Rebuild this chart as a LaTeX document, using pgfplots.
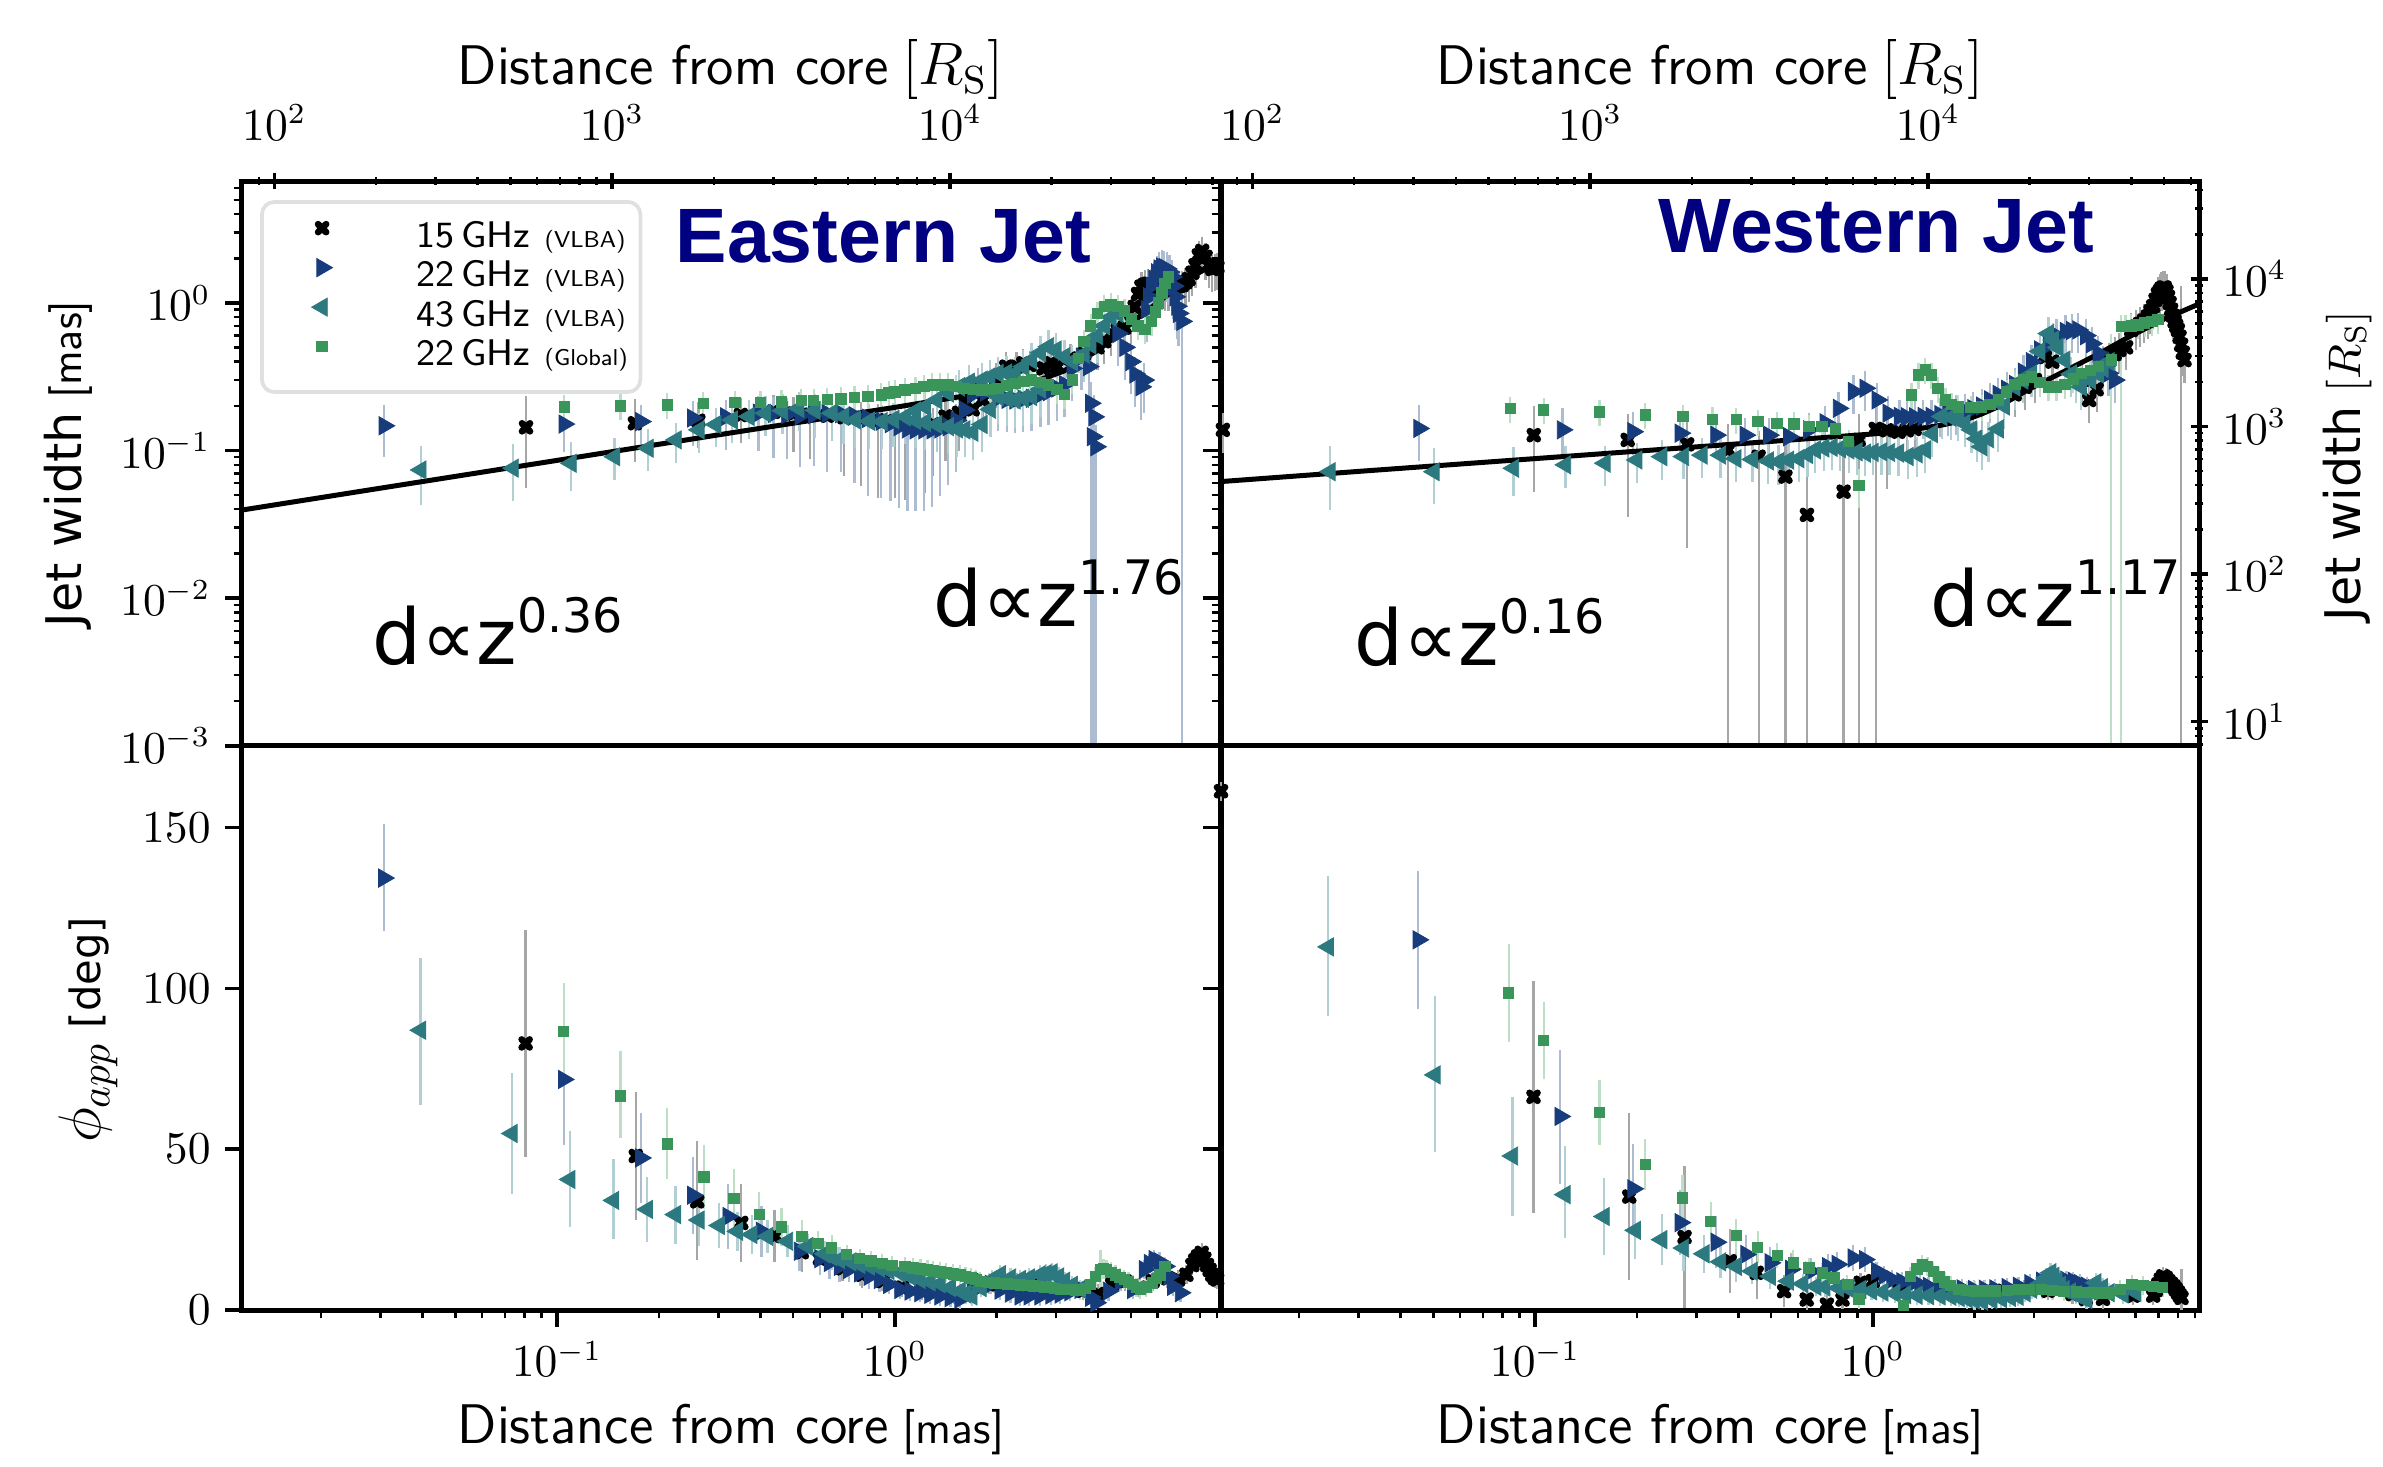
\documentclass[border=0pt]{standalone}
\usepackage{fontspec}
\usepackage{pgfplots}
\pgfplotsset{compat=1.18}
\newfontfamily\dejavu{DejaVu Sans}
\newfontfamily\libsans{Liberation Sans}
\definecolor{c22}{HTML}{163C7C}
\definecolor{c43}{HTML}{2C7A80}
\definecolor{cG}{HTML}{3A955A}
\definecolor{e15}{HTML}{A6A6A6}
\definecolor{e22}{HTML}{AEBCD2}
\definecolor{e43}{HTML}{B2CFD3}
\definecolor{eG}{HTML}{BCDFC6}
\definecolor{navyt}{HTML}{000080}
\definecolor{legbd}{HTML}{E0E0E0}
\pgfdeclareplotmark{Xf}{%
  \pgfsetlinewidth{1.0\pgfplotmarksize}%
  \pgfsetroundcap
  \pgfpathmoveto{\pgfqpoint{-0.6\pgfplotmarksize}{-0.6\pgfplotmarksize}}%
  \pgfpathlineto{\pgfqpoint{0.6\pgfplotmarksize}{0.6\pgfplotmarksize}}%
  \pgfpathmoveto{\pgfqpoint{-0.6\pgfplotmarksize}{0.6\pgfplotmarksize}}%
  \pgfpathlineto{\pgfqpoint{0.6\pgfplotmarksize}{-0.6\pgfplotmarksize}}%
  \pgfusepathqstroke}
\pgfplotsset{
  base/.style={scale only axis, width=235pt, height=135.5pt, anchor=north west,
    tick align=outside, major tick length=4pt, minor tick length=2pt,
    every tick/.append style={line width=0.9pt, black},
    every minor tick/.append style={line width=0.6pt},
    axis line style={line width=1.2pt},
    tick label style={font=\fontsize{10.6}{12}\selectfont},
    xmin=0.01167, xmax=9.25},
  s15/.style={only marks, mark=Xf, mark size=1.6pt, color=black, mark options={draw=black, fill=black},
    error bars/y dir=both, error bars/error mark=none, error bars/error bar style={line width=0.55pt, color=e15}},
  s22/.style={only marks, mark=triangle*, mark size=2.5pt, color=c22, mark options={rotate=-90, draw=c22, fill=c22, line width=0.2pt},
    error bars/y dir=both, error bars/error mark=none, error bars/error bar style={line width=0.55pt, color=e22}},
  s43/.style={only marks, mark=triangle*, mark size=2.5pt, color=c43, mark options={rotate=90, draw=c43, fill=c43, line width=0.2pt},
    error bars/y dir=both, error bars/error mark=none, error bars/error bar style={line width=0.55pt, color=e43}},
  sG/.style={only marks, mark=square*, mark size=1.25pt, color=cG, mark options={draw=cG, fill=cG, line width=0.2pt},
    error bars/y dir=both, error bars/error mark=none, error bars/error bar style={line width=0.55pt, color=eG}},
  rel/.style={error bars/y explicit relative},
  abs/.style={error bars/y explicit},
}
\newcommand{\dprop}[1]{{\dejavu\fontsize{18.5}{21}\selectfont d∝z\raisebox{7.6pt}{\fontsize{11.4}{13}\selectfont #1}}}
\newcommand{\legtxt}[2]{#1\,GHz\hspace{3.5pt}{\fontsize{5.5}{6.5}\selectfont (#2)}}
\begin{document}
\begin{tikzpicture}
%================ TOP LEFT =================
\begin{axis}[base, at={(58.08pt,-43.44pt)}, xmode=log, ymode=log, ymin=1e-3, ymax=6.699,
  xtick=\empty, xminorticks=false, ytick pos=left,
  legend cell align=left,
  legend image code/.code={\draw[#1] plot coordinates {(12pt,2.3pt)}; \path (0pt,0pt) (33.3pt,0pt);},
  legend style={at={(0.0184,0.9663)}, anchor=north west, draw=legbd, line width=0.9pt, rounded corners=3pt,
    inner xsep=2pt, inner ysep=3.85pt, row sep=0pt, font=\sffamily\fontsize{8.9}{11}\selectfont,
    nodes={inner xsep=1pt, inner ysep=0pt, text height=7pt, text depth=2.48pt}}]
\addplot[s15, rel] table[x=x, y=y, y error plus=ep, y error minus=em] {
x y ep em
0.0809 0.1436 0.62 0.61
0.170 0.153 0.45 0.45
0.262 0.159 0.35 0.35
0.350 0.174 0.30 0.35
0.4375 0.183 0.30 0.30
0.501 0.178 0.30 0.45
0.562 0.175 0.30 0.50
0.631 0.172 0.30 0.55
0.708 0.168 0.30 0.60
0.794 0.164 0.30 0.65
0.891 0.160 0.30 0.70
1.000 0.158 0.30 0.70
1.07 0.155 0.30 0.70
1.15 0.150 0.30 0.70
1.23 0.148 0.30 0.65
1.30 0.150 0.30 0.55
1.413 0.170 0.30 0.50
1.549 0.180 0.30 0.45
1.62 0.21 0.30 0.40
1.70 0.19 0.30 0.40
1.820 0.220 0.30 0.35
1.995 0.300 0.30 0.35
2.138 0.370 0.25 0.30
2.291 0.370 0.25 0.30
2.40 0.390 0.25 0.30
2.512 0.380 0.25 0.30
2.754 0.360 0.25 0.30
2.90 0.39 0.25 0.30
3.020 0.370 0.25 0.30
3.311 0.420 0.25 0.30
3.631 0.450 0.25 0.30
3.981 0.500 0.25 0.30
4.169 0.550 0.25 0.30
4.365 0.620 0.25 0.30
4.571 0.660 0.25 0.30
4.786 0.680 0.25 0.30
5.012 0.750 0.25 0.30
5.129 0.940 0.25 0.30
5.248 1.150 0.25 0.30
5.370 1.290 0.25 0.30
5.50 1.33 0.25 0.30
5.623 1.350 0.25 0.30
5.75 1.33 0.25 0.30
5.888 1.300 0.25 0.30
6.03 1.29 0.25 0.30
6.166 1.280 0.25 0.30
6.31 1.26 0.25 0.30
6.457 1.250 0.25 0.30
6.61 1.26 0.25 0.30
6.761 1.280 0.25 0.30
6.92 1.30 0.25 0.30
7.079 1.320 0.25 0.30
7.25 1.38 0.25 0.30
7.413 1.450 0.25 0.30
7.60 1.60 0.25 0.30
7.762 1.800 0.25 0.30
7.943 2.100 0.25 0.30
8.128 2.250 0.25 0.30
8.318 2.050 0.25 0.30
8.511 1.800 0.25 0.30
8.710 1.700 0.25 0.30
8.86 1.72 0.25 0.30
9.016 1.750 0.25 0.30
};
\addlegendentry{\legtxt{15}{VLBA}}
\addplot[s22, rel] table[x=x, y=y, y error plus=ep, y error minus=em] {
x y ep em
0.0308 0.147 0.38 0.39
0.105 0.151 0.35 0.35
0.177 0.157 0.30 0.30
0.252 0.166 0.30 0.35
0.316 0.169 0.30 0.40
0.395 0.179 0.30 0.45
0.437 0.178 0.30 0.50
0.479 0.175 0.30 0.50
0.525 0.172 0.30 0.55
0.575 0.175 0.30 0.55
0.631 0.178 0.30 0.60
0.692 0.178 0.30 0.60
0.759 0.172 0.30 0.65
0.832 0.165 0.30 0.70
0.912 0.158 0.30 0.70
0.970 0.152 0.30 0.70
1.03 0.145 0.30 0.72
1.09 0.140 0.30 0.72
1.15 0.138 0.30 0.72
1.22 0.138 0.30 0.72
1.29 0.138 0.30 0.70
1.36 0.140 0.30 0.65
1.44 0.145 0.30 0.60
1.52 0.160 0.30 0.55
1.61 0.188 0.30 0.50
1.70 0.240 0.30 0.45
1.76 0.280 0.30 0.45
1.86 0.250 0.30 0.40
2.02 0.226 0.30 0.40
2.15 0.222 0.30 0.40
2.27 0.220 0.30 0.40
2.40 0.223 0.30 0.40
2.54 0.226 0.30 0.40
2.70 0.240 0.30 0.40
2.85 0.250 0.30 0.40
3.02 0.265 0.30 0.40
3.18 0.280 0.30 0.40
3.35 0.360 0.30 0.40
3.57 0.430 0.30 0.40
3.75 0.370 0.30 0.40
3.800 0.209 0.40 0.999
3.890 0.169 0.40 0.999
3.850 0.124 0.40 0.999
3.940 0.106 0.40 0.999
4.580 0.620 0.30 0.40
4.800 0.500 0.30 0.40
5.000 0.400 0.30 0.40
5.140 0.330 0.30 0.40
5.360 0.270 0.30 0.40
5.470 0.300 0.30 0.40
5.560 0.900 0.30 0.40
5.650 1.100 0.30 0.40
5.750 1.300 0.30 0.40
5.850 1.450 0.30 0.40
5.960 1.600 0.30 0.40
6.060 1.700 0.30 0.40
6.170 1.750 0.30 0.40
6.270 1.740 0.30 0.40
6.380 1.700 0.30 0.40
6.500 1.620 0.30 0.40
6.610 1.500 0.30 0.40
6.690 1.300 0.30 0.40
6.760 1.100 0.30 0.40
6.840 0.950 0.30 0.40
6.920 0.850 0.30 0.40
7.080 0.750 1.20 0.999
};
\addlegendentry{\legtxt{22}{VLBA}}
\addplot[s43, rel] table[x=x, y=y, y error plus=ep, y error minus=em] {
x y ep em
0.0395 0.0738 0.45 0.42
0.0741 0.0759 0.45 0.40
0.110 0.0819 0.40 0.35
0.148 0.0907 0.35 0.30
0.186 0.1035 0.35 0.30
0.225 0.118 0.30 0.30
0.263 0.138 0.30 0.30
0.295 0.150 0.30 0.30
0.330 0.161 0.30 0.30
0.370 0.170 0.30 0.30
0.414 0.179 0.30 0.30
0.465 0.186 0.30 0.30
0.519 0.193 0.30 0.30
0.580 0.187 0.30 0.35
0.651 0.179 0.30 0.35
0.705 0.170 0.30 0.35
0.764 0.161 0.30 0.35
0.840 0.158 0.30 0.35
0.916 0.157 0.30 0.35
0.990 0.162 0.30 0.35
1.074 0.169 0.30 0.35
1.150 0.185 0.30 0.35
1.230 0.198 0.30 0.35
1.330 0.220 0.30 0.35
1.440 0.245 0.30 0.35
1.550 0.270 0.30 0.35
1.660 0.290 0.30 0.35
1.810 0.300 0.30 0.35
1.910 0.315 0.30 0.35
2.020 0.333 0.30 0.35
2.140 0.335 0.30 0.35
2.270 0.333 0.30 0.35
2.400 0.370 0.30 0.35
2.540 0.410 0.30 0.35
2.700 0.460 0.30 0.35
2.850 0.505 0.30 0.35
3.000 0.480 0.30 0.35
3.180 0.432 0.30 0.35
3.350 0.400 0.30 0.35
1.150 0.160 0.30 0.35
1.230 0.155 0.30 0.35
1.330 0.150 0.30 0.35
1.440 0.145 0.30 0.35
1.530 0.140 0.30 0.35
1.610 0.138 0.30 0.35
1.700 0.133 0.30 0.35
1.810 0.150 0.30 0.35
1.920 0.190 0.30 0.35
2.020 0.232 0.30 0.35
2.150 0.225 0.30 0.35
2.270 0.220 0.30 0.35
2.400 0.226 0.30 0.35
2.540 0.232 0.30 0.35
2.700 0.260 0.30 0.35
3.631 0.450 0.30 0.35
3.800 0.520 0.30 0.35
3.981 0.600 0.30 0.35
4.170 0.700 0.30 0.35
4.365 0.800 0.30 0.35
4.571 0.850 0.30 0.35
};
\addlegendentry{\legtxt{43}{VLBA}}
\addplot[sG, rel] table[x=x, y=y, y error plus=ep, y error minus=em] {
x y ep em
0.105 0.198 0.20 0.20
0.154 0.200 0.20 0.20
0.212 0.203 0.20 0.20
0.271 0.209 0.20 0.20
0.336 0.211 0.20 0.20
0.400 0.211 0.20 0.20
0.462 0.214 0.20 0.20
0.528 0.218 0.20 0.20
0.575 0.219 0.20 0.20
0.631 0.221 0.20 0.20
0.692 0.224 0.20 0.20
0.759 0.228 0.20 0.20
0.832 0.232 0.20 0.20
0.912 0.238 0.20 0.20
0.960 0.245 0.20 0.20
1.000 0.250 0.20 0.20
1.070 0.257 0.20 0.20
1.150 0.264 0.20 0.20
1.220 0.272 0.20 0.20
1.290 0.278 0.20 0.20
1.360 0.279 0.20 0.20
1.440 0.278 0.20 0.20
1.520 0.272 0.20 0.20
1.610 0.264 0.20 0.20
1.710 0.260 0.20 0.20
1.810 0.257 0.20 0.20
1.910 0.260 0.20 0.20
2.020 0.264 0.20 0.20
2.140 0.275 0.20 0.20
2.270 0.285 0.20 0.20
2.400 0.293 0.20 0.20
2.540 0.300 0.20 0.20
2.700 0.290 0.20 0.20
2.850 0.278 0.20 0.20
3.020 0.260 0.20 0.20
3.180 0.240 0.20 0.20
3.350 0.300 0.20 0.20
3.500 0.420 0.20 0.20
3.631 0.550 0.20 0.20
3.800 0.700 0.20 0.20
3.981 0.850 0.20 0.20
4.169 0.950 0.20 0.20
4.365 0.970 0.20 0.20
4.571 0.950 0.20 0.20
4.786 0.880 0.20 0.20
5.012 0.780 0.20 0.20
5.248 0.700 0.20 0.20
5.495 0.660 0.20 0.20
5.754 0.750 0.20 0.20
5.900 0.870 0.20 0.20
6.026 1.000 0.20 0.20
6.170 1.170 0.20 0.20
6.310 1.350 0.20 0.20
6.457 1.500 0.20 0.20
};
\addlegendentry{\legtxt{22}{Global}}
\addplot[black, line width=1.2pt, forget plot] coordinates {
(0.01167,0.0395) (0.0316,0.0566) (0.1,0.0857) (0.316,0.130) (1.0,0.196) (1.585,0.233)
(1.995,0.257) (2.512,0.288) (2.818,0.313) (3.162,0.345) (3.548,0.407) (3.981,0.476)
(4.467,0.582) (5.012,0.730) (5.623,0.898) (6.31,1.10) (7.079,1.327) (7.943,1.60) (9.25,1.97)};
\end{axis}
\begin{axis}[base, at={(58.08pt,-43.44pt)}, xmode=log, xmin=80.2, xmax=63557, ymin=0, ymax=1,
  axis x line=top, axis y line=none, x axis line style={-}, xticklabel style={yshift=4.3pt}]
\addplot[draw=none] coordinates {(1000,0.5)};
\end{axis}
%================ TOP RIGHT =================
\begin{axis}[base, at={(292.8pt,-43.44pt)}, xmode=log, ymode=log, ymin=1e-3, ymax=6.699,
  xtick=\empty, xminorticks=false, ytick pos=left, yticklabels={}]
\addplot[s15, rel] table[x=x, y=y, y error plus=ep, y error minus=em] {
x y ep em
0.0119 0.138 0.30 0.30
0.0991 0.127 0.57 0.59
0.188 0.118 0.50 0.70
0.282 0.110 0.50 0.80
0.372 0.101 0.50 0.999
0.459 0.0908 0.50 0.999
0.551 0.0665 0.80 0.999
0.638 0.0366 1.50 0.999
0.819 0.0526 1.20 0.999
0.908 0.118 0.50 0.999
1.02 0.140 0.40 0.999
1.10 0.137 0.30 0.60
1.19 0.134 0.30 0.30
1.26 0.137 0.30 0.30
1.33 0.140 0.30 0.30
2.63 0.240 0.30 0.30
2.82 0.270 0.30 0.30
3.02 0.300 0.30 0.30
3.23 0.430 0.30 0.30
3.40 0.400 0.30 0.30
4.17 0.300 0.30 0.30
4.37 0.220 0.30 0.30
4.60 0.260 0.30 0.30
5.01 0.410 0.30 0.30
5.20 0.450 0.30 0.30
5.37 0.480 0.30 0.30
5.62 0.500 0.30 0.30
5.82 0.656 0.30 0.30
6.00 0.690 0.30 0.30
6.17 0.720 0.30 0.30
6.35 0.760 0.30 0.30
6.52 0.810 0.30 0.30
6.64 0.880 0.30 0.30
6.76 0.950 0.30 0.30
6.87 1.050 0.30 0.30
6.98 1.150 0.30 0.30
7.07 1.200 0.30 0.30
7.16 1.250 0.30 0.30
7.24 1.270 0.30 0.30
7.31 1.270 0.30 0.30
7.40 1.200 0.30 0.30
7.48 1.100 0.30 0.30
7.56 1.000 0.30 0.30
7.64 0.900 0.30 0.30
7.73 0.820 0.30 0.30
7.82 0.750 0.30 0.30
7.91 0.700 0.30 0.30
8.00 0.656 0.30 0.30
8.09 0.590 0.30 0.30
8.18 0.520 1.50 0.999
8.27 0.460 0.30 0.30
8.37 0.410 0.30 0.30
};
\addplot[s22, rel] table[x=x, y=y, y error plus=ep, y error minus=em] {
x y ep em
0.0453 0.141 0.45 0.40
0.1205 0.138 0.40 0.35
0.195 0.134 0.35 0.30
0.269 0.131 0.30 0.30
0.343 0.127 0.30 0.30
0.419 0.127 0.30 0.30
0.492 0.127 0.30 0.30
0.564 0.124 0.30 0.30
0.646 0.138 0.30 0.30
0.723 0.154 0.30 0.30
0.791 0.193 0.30 0.30
0.877 0.251 0.30 0.30
0.949 0.264 0.30 0.30
1.03 0.220 0.30 0.30
1.11 0.179 0.30 0.30
1.20 0.170 0.30 0.30
1.26 0.169 0.30 0.30
1.33 0.169 0.30 0.30
1.41 0.170 0.30 0.30
1.49 0.170 0.30 0.30
1.58 0.175 0.30 0.30
1.67 0.180 0.30 0.30
1.77 0.182 0.30 0.30
1.87 0.185 0.30 0.30
1.98 0.192 0.30 0.30
2.10 0.200 0.30 0.30
2.22 0.220 0.30 0.30
2.35 0.240 0.30 0.30
2.49 0.260 0.30 0.30
2.63 0.280 0.30 0.30
2.79 0.340 0.30 0.30
2.95 0.400 0.30 0.30
3.12 0.480 0.30 0.30
3.31 0.550 0.30 0.30
3.50 0.600 0.30 0.30
3.72 0.640 0.30 0.30
3.88 0.650 0.30 0.30
4.05 0.656 0.30 0.30
4.27 0.600 0.30 0.30
4.45 0.530 0.30 0.30
4.65 0.456 0.30 0.30
4.80 0.390 0.30 0.30
4.98 0.333 0.30 0.30
5.20 0.300 0.30 0.30
};
\addplot[s43, rel] table[x=x, y=y, y error plus=ep, y error minus=em] {
x y ep em
0.0247 0.0718 0.50 0.45
0.0502 0.0718 0.45 0.40
0.0863 0.0758 0.40 0.35
0.123 0.0799 0.35 0.30
0.161 0.082 0.30 0.30
0.200 0.0862 0.30 0.30
0.237 0.0908 0.30 0.30
0.275 0.091 0.30 0.30
0.312 0.093 0.30 0.30
0.354 0.093 0.30 0.30
0.393 0.088 0.30 0.30
0.44 0.087 0.30 0.30
0.49 0.085 0.30 0.30
0.526 0.084 0.30 0.30
0.563 0.086 0.30 0.30
0.603 0.088 0.30 0.30
0.640 0.094 0.30 0.30
0.675 0.101 0.30 0.30
0.715 0.104 0.30 0.30
0.757 0.105 0.30 0.30
0.800 0.103 0.30 0.30
0.848 0.101 0.30 0.30
0.897 0.098 0.30 0.30
0.949 0.096 0.30 0.30
1.00 0.097 0.30 0.30
1.06 0.098 0.30 0.30
1.12 0.097 0.30 0.30
1.19 0.096 0.30 0.30
1.27 0.091 0.30 0.30
1.35 0.095 0.30 0.30
1.43 0.101 0.30 0.30
1.50 0.130 0.30 0.30
1.60 0.170 0.30 0.30
1.70 0.168 0.30 0.30
1.79 0.165 0.30 0.30
1.87 0.152 0.30 0.30
1.96 0.138 0.30 0.30
2.03 0.120 0.30 0.30
2.10 0.106 0.30 0.30
2.20 0.120 0.30 0.30
2.35 0.140 0.30 0.30
2.45 0.200 0.30 0.30
2.63 0.270 0.30 0.30
2.78 0.300 0.30 0.30
2.95 0.330 0.30 0.30
3.12 0.470 0.30 0.30
3.31 0.620 0.30 0.30
3.42 0.560 0.30 0.30
3.53 0.500 0.30 0.30
3.70 0.410 0.30 0.30
3.87 0.330 0.30 0.30
4.00 0.300 0.30 0.30
4.14 0.270 0.30 0.30
4.40 0.300 0.30 0.30
4.65 0.330 0.30 0.30
4.80 0.360 0.30 0.30
5.00 0.400 0.30 0.30
};
\addplot[sG, rel] table[x=x, y=y, y error plus=ep, y error minus=em] {
x y ep em
0.0844 0.193 0.20 0.20
0.106 0.188 0.20 0.20
0.155 0.183 0.20 0.20
0.212 0.174 0.20 0.20
0.274 0.170 0.20 0.20
0.335 0.163 0.20 0.20
0.394 0.162 0.20 0.20
0.457 0.157 0.20 0.20
0.520 0.152 0.20 0.20
0.583 0.151 0.20 0.20
0.646 0.146 0.20 0.20
0.707 0.145 0.20 0.20
0.774 0.140 0.20 0.20
0.848 0.115 0.20 0.20
0.908 0.058 0.30 0.30
1.30 0.238 0.20 0.20
1.365 0.325 0.20 0.20
1.43 0.351 0.20 0.20
1.49 0.325 0.20 0.20
1.56 0.264 0.20 0.20
1.64 0.220 0.20 0.20
1.71 0.205 0.20 0.20
1.79 0.198 0.20 0.20
1.95 0.195 0.20 0.20
2.10 0.198 0.20 0.20
2.22 0.205 0.20 0.20
2.35 0.220 0.20 0.20
2.49 0.250 0.20 0.20
2.63 0.280 0.20 0.20
2.79 0.300 0.20 0.20
2.95 0.316 0.20 0.20
3.12 0.290 0.20 0.20
3.31 0.270 0.20 0.20
3.50 0.270 0.20 0.20
3.70 0.280 0.20 0.20
3.92 0.305 0.20 0.20
4.14 0.333 0.20 0.20
4.40 0.350 0.20 0.20
4.65 0.370 0.20 0.20
5.08 0.410 0.50 0.999
5.44 0.690 0.20 0.999
5.60 0.690 0.20 0.20
5.82 0.700 0.20 0.20
6.10 0.710 0.20 0.20
6.38 0.730 0.20 0.20
6.70 0.750 0.20 0.20
6.98 0.770 0.20 0.20
};
\addplot[black, line width=1.2pt, forget plot] coordinates {
(0.01167,0.0615) (0.0316,0.0728) (0.1,0.0881) (0.316,0.1067) (1.0,0.1294) (1.259,0.1365)
(1.585,0.148) (1.875,0.161) (2.089,0.176) (2.35,0.198) (2.63,0.229) (2.944,0.265)
(3.70,0.345) (4.645,0.45) (5.82,0.60) (7.31,0.78) (9.25,0.985)};
\end{axis}
\begin{axis}[base, at={(292.8pt,-43.44pt)}, xmode=log, ymode=log, xmin=80.2, xmax=63557, ymin=6.871, ymax=46028,
  axis x line=top, axis y line=right, x axis line style={-}, y axis line style={-}, xticklabel style={yshift=4.3pt}]
\addplot[draw=none] coordinates {(1000,100)};
\end{axis}
%================ BOTTOM LEFT =================
\begin{axis}[base, at={(58.08pt,-178.92pt)}, xmode=log, ymin=0, ymax=175.5, ytick={0,50,100,150},
  xtick pos=left, ytick pos=left]
\addplot[s15, abs] table[x=x, y=y, y error plus=ep, y error minus=em] {
x y ep em
0.0807 82.9 35.4 35.3
0.171 47.9 20 20
0.260 33.8 18.9 18.2
0.351 27.1 12 12
0.44 23 8 8
0.53 18 6 6
0.60 16 5 5
0.70 13 4 4
0.80 11 4 4
0.92 9 3 3
1.05 7 3 3
1.2 6 3 3
1.5 5 3 3
1.9 8 3 3
2.3 8.5 3 3
2.7 9 3 3
3.2 7 3 3
3.6 6 3 3
4.0 5 3 3
4.4 8 3 3
4.8 9 3 3
5.3 7 3 3
5.8 9 3 3
6.4 10 3 3
6.9 9.5 3 3
7.3 11 3 3
7.6 14 3 3
7.75 15.5 3 3
7.9 16.7 3 3
8.1 17.8 3 3
8.25 16 3 3
8.4 14 3 3
8.55 12.5 3 3
8.7 11 3 3
8.85 10 3 3
9.0 9.5 3 3
};
\addplot[s22, abs] table[x=x, y=y, y error plus=ep, y error minus=em] {
x y ep em
0.0307 134.3 16.7 16.5
0.1046 71.7 21.1 20.4
0.177 47.3 14 14
0.252 35.7 12 12
0.321 29.1 10 10
0.403 24.5 8 8
0.522 18.3 6 6
0.60 16 5 5
0.64 14.8 5 5
0.686 13.6 5 5
0.73 12.6 4 4
0.787 11.6 4 4
0.84 10.5 4 4
0.90 9.5 4 4
0.96 8 3 3
1.035 6.4 3 3
1.11 5.9 3 3
1.186 5.4 3 3
1.27 4.9 3 3
1.36 4.4 3 3
1.46 3.9 3 3
1.56 3.4 3 3
1.70 6 3 3
1.79 9 3 3
1.92 8 3 3
2.05 6.2 3 3
2.2 5.3 3 3
2.35 4.4 3 3
2.5 4.4 3 3
2.69 4.4 3 3
2.9 4.7 3 3
3.09 5 3 3
3.3 5.7 3 3
3.54 6.5 3 3
3.80 4 3 3
3.94 2.3 3 2.3
4.29 5.9 3 3
4.66 9 3 3
5.06 6.4 3 3
5.48 12.6 3 3
5.67 14.5 3 3
5.86 15.7 3 3
6.08 15 3 3
6.30 13.6 3 3
6.48 10.5 3 3
6.65 7.4 3 3
7.01 5.4 3 3
};
\addplot[s43, abs] table[x=x, y=y, y error plus=ep, y error minus=em] {
x y ep em
0.0394 87 22.5 23.3
0.0735 54.9 18.9 18.9
0.109 40.6 15.1 14.8
0.147 34.1 12.8 12
0.185 31.3 10 10
0.224 29.7 9 9
0.263 28 8 8
0.302 26.3 7 7
0.342 24.5 6 6
0.377 23.5 6 6
0.42 22.9 5 5
0.481 21.4 5 5
0.552 19.8 4 4
0.62 17.5 4 4
0.65 16.6 4 4
0.686 15.7 4 4
0.74 15 3 3
0.787 14.2 3 3
0.84 13.7 3 3
0.90 13.1 3 3
0.96 12.3 3 3
1.035 11.6 3 3
1.11 10.5 3 3
1.186 9.5 3 3
1.27 8.8 3 3
1.36 8.2 3 3
1.46 7 3 3
1.56 5.9 3 3
1.62 5 3 3
1.69 4.4 3 3
1.80 7 3 3
1.94 9.5 3 3
2.05 11 3 3
2.2 10 3 3
2.35 9.5 3 3
2.5 10 3 3
2.69 11 3 3
2.8 11.3 3 3
2.92 11.6 3 3
3.05 10.3 3 3
3.18 9 3 3
3.35 7.7 3 3
3.54 6.5 3 3
};
\addplot[sG, abs] table[x=x, y=y, y error plus=ep, y error minus=em] {
x y ep em
0.1046 86.7 15 14.7
0.154 66.6 13.8 13.2
0.212 51.7 11 11
0.272 41.4 10 10
0.334 34.8 9 9
0.397 29.7 7 7
0.462 25.8 6 6
0.53 22.9 5 5
0.592 20.7 4 4
0.65 19.3 4 4
0.72 17.3 3 3
0.787 16.1 3 3
0.85 15.3 3 3
0.917 14.5 3 3
0.98 13.9 3 3
1.07 13.5 3 3
1.13 13.1 3 3
1.19 12.8 3 3
1.25 12.5 3 3
1.30 12.2 3 3
1.36 11.9 3 3
1.42 11.6 3 3
1.49 11.3 3 3
1.56 11 3 3
1.62 10.5 3 3
1.68 10 3 3
1.74 9.5 3 3
1.79 9 3 3
1.90 8.6 3 3
1.97 8.4 3 3
2.05 8.3 3 3
2.15 8.1 3 3
2.24 8 3 3
2.35 7.8 3 3
2.45 7.6 3 3
2.57 7.5 3 3
2.69 7.4 3 3
2.78 7.2 3 3
2.88 7 3 3
2.98 6.8 3 3
3.09 6.5 3 3
3.20 6.4 3 3
3.30 6.4 3 3
3.42 6.3 3 3
3.54 6.2 3 3
3.67 6.8 3 3
3.80 8 3 3
3.93 10.5 3 3
4.06 12.6 6 6
4.15 12.8 3 3
4.23 12.6 3 3
4.36 11.8 3 3
4.50 11 3 3
4.64 10.2 3 3
4.78 9.5 3 3
4.92 8.7 3 3
5.05 8 3 3
5.19 7.1 3 3
5.33 6.4 3 3
5.55 7.2 3 3
5.78 8.4 3 3
5.95 9.8 3 3
6.1 11 3 3
6.3 13.6 3 3
};
\end{axis}
%================ BOTTOM RIGHT =================
\begin{axis}[base, at={(292.8pt,-178.92pt)}, xmode=log, ymin=0, ymax=175.5, ytick={0,50,100,150},
  xtick pos=left, ytick pos=left, yticklabels={}]
\addplot[s15, abs] table[x=x, y=y, y error plus=ep, y error minus=em] {
x y ep em
0.01175 161.3 3 3
0.0989 66.3 36 36
0.190 35.3 26 26
0.277 22.7 22 22
0.377 15.2 10 10
0.453 11.6 8 8
0.546 5.9 5 5
0.637 3.3 4 3.3
0.731 1.7 3 1.7
0.813 3.3 3 3
0.92 8.5 3 3
1.0 9 3 3
1.2 6 3 3
1.5 5.5 3 3
1.9 5.5 3 3
2.3 6 3 3
2.8 6.5 3 3
3.3 6 3 3
3.9 5 3 3
4.27 3.5 3 3
4.8 3.5 3 3
5.9 4.5 3 3
6.76 4.5 3 3
6.88 6.2 3 3
7.0 8 3 3
7.12 9.5 3 3
7.24 10.5 3 3
7.37 10 3 3
7.5 9 3 3
7.63 8.2 3 3
7.76 7.4 3 3
7.88 6.5 3 3
8.0 5.5 3 3
8.1 4.6 3 3
8.2 3.8 9 3.8
};
\addplot[s22, abs] table[x=x, y=y, y error plus=ep, y error minus=em] {
x y ep em
0.0451 115.1 21.5 21.5
0.1186 60.2 20.7 21
0.195 37.7 14 14
0.269 27.2 10 10
0.344 21.1 8 8
0.421 17.3 6 6
0.497 14.7 5 5
0.571 12.7 5 5
0.656 12.1 4 4
0.735 13.5 4 4
0.785 14.2 4 4
0.875 16.2 4 4
0.946 15.7 4 4
1.026 12.1 3 3
1.08 10.8 3 3
1.14 9.5 3 3
1.22 8.8 3 3
1.30 8.2 3 3
1.38 7.8 3 3
1.46 7.4 3 3
1.58 7.1 3 3
1.70 6.8 3 3
1.84 6.6 3 3
1.99 6.4 3 3
2.14 6.5 3 3
2.30 6.6 3 3
2.50 7 3 3
2.70 7.4 3 3
2.92 8.2 3 3
3.16 9 3 3
3.35 9.3 3 3
3.55 9.5 3 3
3.73 9.3 3 3
3.92 9 3 3
4.10 8.2 3 3
4.30 7.4 3 3
4.50 6.7 3 3
4.70 6 3 3
};
\addplot[s43, abs] table[x=x, y=y, y error plus=ep, y error minus=em] {
x y ep em
0.0244 112.9 22.1 21.6
0.0505 73.1 24.4 24
0.0857 47.9 18.5 18.5
0.1225 35.9 15 13.4
0.160 29.1 12 12
0.198 24.8 9 9
0.237 21.9 8 8
0.275 19.3 7 7
0.316 17.5 6 6
0.354 15 5 5
0.394 13.6 5 5
0.439 12.1 4 4
0.497 10.5 4 4
0.562 9.0 4 4
0.62 8.2 3 3
0.677 7.4 3 3
0.72 7.2 3 3
0.79 6.9 3 3
0.85 6.6 3 3
0.92 6.4 3 3
0.99 6 3 3
1.07 5.6 3 3
1.16 5.2 3 3
1.25 4.8 3 3
1.35 4.6 3 3
1.46 4.5 3 3
1.58 4.4 3 3
1.70 4.3 3 3
1.80 3.9 3 3
1.90 3.5 3 3
2.00 3.1 3 3
2.11 2.8 3 2.8
2.25 3.2 3 3
2.40 3.6 3 3
2.55 4 3 3
2.69 4.3 3 3
2.82 5.4 3 3
2.95 6.5 3 3
3.06 7.5 3 3
3.16 8.5 3 3
3.26 10 3 3
3.36 11.6 3 3
3.43 10.5 3 3
3.50 9 3 3
3.59 7.7 3 3
3.68 6.4 3 3
3.84 5.6 3 3
4.0 4.8 3 3
4.15 4 3 3
4.30 3.3 3 3
4.45 6 3 3
4.57 8.5 3 3
4.78 7 3 3
5.0 5.4 3 3
5.5 5 3 3
6.0 5.5 3 3
};
\addplot[sG, abs] table[x=x, y=y, y error plus=ep, y error minus=em] {
x y ep em
0.0835 98.6 15.3 15.2
0.106 83.8 12 12
0.155 61.4 10 10
0.212 45.2 8 8
0.273 34.9 7 7
0.331 27.6 6 6
0.394 23.2 5 5
0.456 19.5 5 5
0.521 17 4 4
0.581 14.7 4 4
0.647 13.1 3 3
0.71 11.6 3 3
0.766 10 3 3
0.84 7.9 3 3
0.908 3.5 3 3
1.23 1.4 3 1.4
1.29 10.5 3 3
1.35 12.8 3 3
1.40 14.2 3 3
1.45 13.6 3 3
1.51 12.1 3 3
1.57 10.3 3 3
1.63 8.8 3 3
1.70 7.6 3 3
1.80 6.5 3 3
1.90 6.2 3 3
2.0 6 3 3
2.15 6 3 3
2.3 6 3 3
2.5 6.2 3 3
2.7 6.5 3 3
2.9 6.5 3 3
3.16 6.5 3 3
3.4 6.1 3 3
3.68 5.8 3 3
4.0 5.6 3 3
4.3 5.5 3 3
4.6 5.4 3 3
5.0 5.3 3 3
5.4 6.5 3 3
5.84 7.9 3 3
6.3 7.6 3 3
6.76 7.4 3 3
7.2 7 3 3
};
\end{axis}
%================ LABELS =================
\begin{scope}[x=0.24pt, y=-0.24pt]
\node[anchor=base, inner sep=0pt] at (731,84) {{\sffamily\fontsize{13.4}{16}\selectfont Distance from core} {\fontsize{13.4}{16}\selectfont$[R_\mathrm{S}]$}};
\node[anchor=base, inner sep=0pt] at (1710,84) {{\sffamily\fontsize{13.4}{16}\selectfont Distance from core} {\fontsize{13.4}{16}\selectfont$[R_\mathrm{S}]$}};
\node[anchor=base, inner sep=0pt] at (731,1443) {{\sffamily\fontsize{13.4}{16}\selectfont Distance from core} {\sffamily\fontsize{10.9}{13}\selectfont [mas]}};
\node[anchor=base, inner sep=0pt] at (1710,1443) {{\sffamily\fontsize{13.4}{16}\selectfont Distance from core} {\sffamily\fontsize{10.9}{13}\selectfont [mas]}};
\node[rotate=90, anchor=center, inner sep=0pt] at (68,464) {{\dejavu\fontsize{11.8}{14}\selectfont Jet width} {\sffamily\fontsize{10.5}{12}\selectfont [mas]}};
\node[rotate=90, anchor=center, inner sep=0pt] at (2347,466) {{\dejavu\fontsize{11.8}{14}\selectfont Jet width} {\fontsize{10.6}{12}\selectfont$[R_\mathrm{S}]$}};
\node[rotate=90, anchor=center, inner sep=0pt] at (88,1030) {{\fontsize{14}{16}\selectfont$\phi_{app}$}\ {\dejavu\fontsize{10}{12}\selectfont [deg]}};
\node[anchor=base east, inner sep=0pt, text=navyt] at (1092,262) {\libsans\bfseries\fontsize{18.5}{22}\selectfont Eastern Jet};
\node[anchor=base east, inner sep=0pt, text=navyt] at (2095,252) {\libsans\bfseries\fontsize{18.5}{22}\selectfont Western Jet};
\node[anchor=base west, inner sep=0pt] at (372,664) {\dprop{0.36}};
\node[anchor=base west, inner sep=0pt] at (933,626) {\dprop{1.76}};
\node[anchor=base west, inner sep=0pt] at (1354,665) {\dprop{0.16}};
\node[anchor=base west, inner sep=0pt] at (1930,626) {\dprop{1.17}};
\end{scope}
\pgfresetboundingbox
\path[use as bounding box] (0,0) rectangle (571.92pt,-351.84pt);
\end{tikzpicture}
\end{document}
